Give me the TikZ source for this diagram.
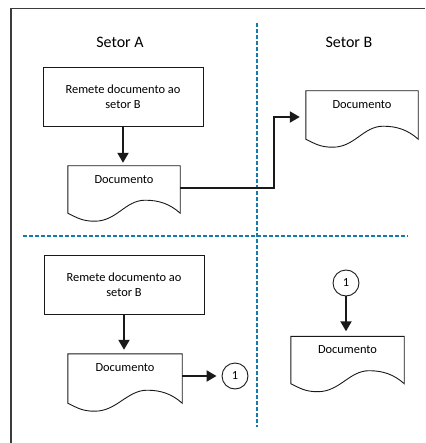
\documentclass[tikz,border=0pt]{standalone}
\usepackage{fontspec}
\setmainfont{Carlito}
\usetikzlibrary{arrows.meta,calc}
\definecolor{lane}{RGB}{22,122,170}
\definecolor{ink}{RGB}{25,25,25}
\newcommand\docpath[1]{%
  \draw[docline] (#1.south west) -- (#1.north west) -- (#1.north east) -- (#1.south east)
    .. controls +(-10,-9) and +(14,0) .. ($(#1.south east)+(-35,-13)$)
    .. controls +(-20,0) and +(22,0) .. ($(#1.south west)+(27,8)$)
    .. controls +(-12,0) and +(10,5) .. cycle;}
\begin{document}
\begin{tikzpicture}[x=1pt,y=-1pt,
  txt/.style={font=\fontsize{12.4}{15}\selectfont},
  sector/.style={font=\fontsize{16}{19}\selectfont, anchor=base, inner sep=0pt},
  proc/.style={txt, draw=ink, line width=0.9pt, minimum width=160pt, minimum height=59pt,
    align=center, inner sep=0pt},
  docnode/.style={inner sep=0pt,
    label={[txt, anchor=base, yshift=-17.5pt, inner sep=0pt]north:Documento}},
  docline/.style={draw=ink, line width=0.9pt},
  conn/.style={txt, draw=ink, circle, line width=0.9pt, minimum size=26pt, inner sep=0pt},
  arr/.style={draw=ink, line width=2pt, -{Triangle[length=10pt,width=11pt]}},
  lanes/.style={draw=lane, line width=2pt, dash pattern=on 4pt off 2pt},
  frame/.style={draw=ink!85, line width=1.2pt}]
\useasboundingbox (0,0) rectangle (425,443);
% frame
\draw[frame] (11,443) -- (11,8.5) -- (425,8.5);
% lanes
\draw[lanes] (257,23) -- (257,427);
\draw[lanes] (23,236) -- (408,236);
% sector titles
\node[sector] (sa) at (120,47.5) {Setor A};
\node[sector] (sb) at (349,47.5) {Setor B};
% top half
\node[proc] (b1) at (123,96.5) {Remete documento ao\\setor B};
\node[docnode, minimum width=112pt, minimum height=47pt] (d1) at (124,189.5) {};
\node[docnode, minimum width=112pt, minimum height=48pt] (d2) at (362,115) {};
\docpath{d1}
\docpath{d2}
\coordinate (bend) at (274,0);
\coordinate (d1out) at ([yshift=1.5pt]d1.east);
\coordinate (d2in) at ([yshift=-2pt]d2.west);
\draw[arr, shorten >=3pt] (b1.south) -- (b1.south |- d1.north);
\draw[arr, shorten >=6pt] (d1out) -| (bend |- d2in) -- (d2in);
% bottom half
\node[proc] (b2) at (124,284.5) {Remete documento ao\\setor B};
\node[docnode, minimum width=114pt, minimum height=49pt] (d3) at (125,378.5) {};
\node[conn] (c1) at (235,376) {1};
\node[conn] (c2) at (346,283) {1};
\node[docnode, minimum width=113pt, minimum height=47pt] (d4) at (347.5,360) {};
\docpath{d3}
\docpath{d4}
\draw[arr, shorten >=4pt] (b2.south) -- (b2.south |- d3.north);
\draw[arr, shorten >=5pt] (d3.east |- c1) -- (c1.west);
\draw[arr, shorten >=5pt] (c2.south) -- (c2.south |- d4.north);
\end{tikzpicture}
\end{document}
